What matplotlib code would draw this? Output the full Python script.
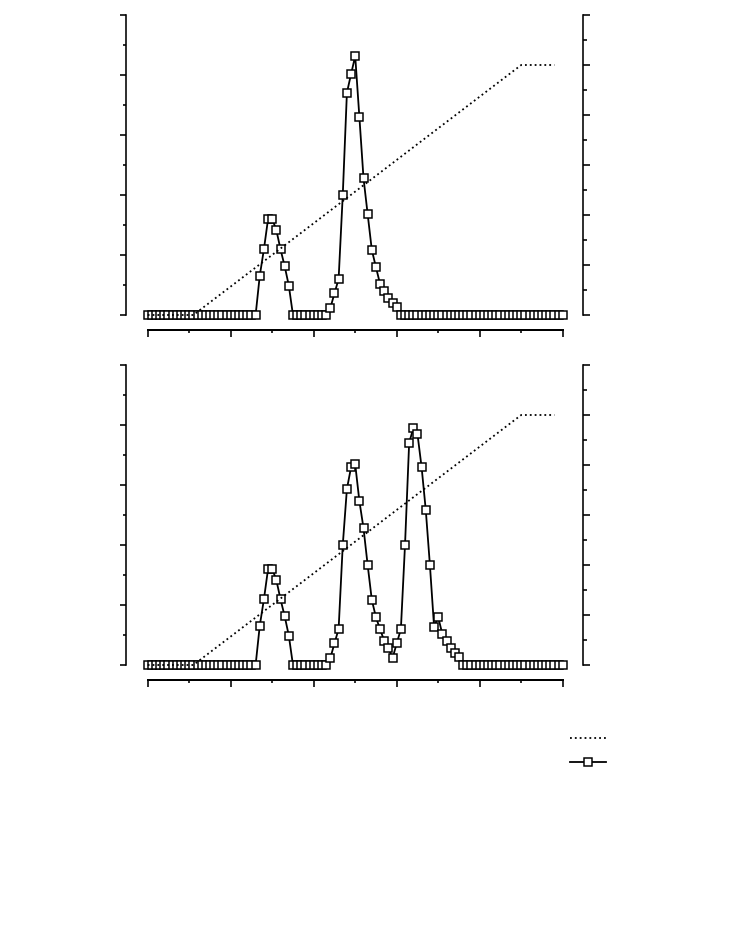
import numpy as np
import matplotlib
matplotlib.use("Agg")
import matplotlib.pyplot as plt
from matplotlib.ticker import MultipleLocator, NullFormatter

# 数据 (从图上读取, 左轴 0~100, 右轴 0~60, x 为采样序号 0~100)
x = np.arange(101)

top_vals = [0] * 27 + [
    13.1, 21.9, 32, 32, 28.3, 21.9, 16.3, 9.8,
] + [0] * 9 + [
    2.3, 7.2, 12, 40, 74.1, 80.3, 86.3, 66.1, 45.6, 33.6, 21.7, 15.9,
    10.3, 8, 5.6, 3.9, 2.8,
] + [0] * 40

bot_vals = [0] * 27 + [
    13.1, 21.9, 32, 32, 28.3, 21.9, 16.3, 9.8,
] + [0] * 9 + [
    2.3, 7.2, 12, 40, 58.7, 65.9, 66.9, 54.7, 45.6, 33.3, 21.7, 15.9,
    11.9, 8, 5.6, 2.3, 7.2, 11.9, 40, 74.1, 78.9, 77, 65.9, 51.7, 33.3,
    12.8, 15.9, 10.3, 8, 5.6, 3.9, 2.8,
] + [0] * 25

# 虚线 (右轴) 的折点
ramp_x = [0, 11, 90, 98]
ramp_y = [0, 0, 50, 50]

W, H = 737, 942
fig = plt.figure(figsize=(W / 100, H / 100), dpi=100)

px = 72 / 100  # 1 像素 = 0.72 pt
LW = 1.6 * px
DATA_KW = dict(color="black", lw=1.8 * px, marker="s", ms=7.3 * px,
               mfc="white", mec="black", mew=1.5 * px)
RAMP_KW = dict(color="black", lw=1.8 * px, linestyle=(0, (1, 1.7)))


def panel(top_px, vals):
    ax = fig.add_axes([126 / W, 1 - (top_px + 300) / H, 457.3 / W, 300 / H])
    ax.set_xlim(-5.23, 104.96)
    ax.set_ylim(0, 100)
    ax.plot(x, vals, "-", clip_on=False, zorder=3, **DATA_KW)
    for s in ("top", "right"):
        ax.spines[s].set_visible(False)
    ax.spines["left"].set_linewidth(LW)
    ax.spines["bottom"].set_linewidth(2 * px)
    ax.spines["bottom"].set_position(("outward", 15 * px))
    ax.spines["bottom"].set_bounds(0, 100)
    ax.xaxis.set_major_locator(MultipleLocator(20))
    ax.xaxis.set_minor_locator(MultipleLocator(10))
    ax.yaxis.set_major_locator(MultipleLocator(20))
    ax.yaxis.set_minor_locator(MultipleLocator(10))
    ax.tick_params(which="both", direction="out", labelleft=False,
                   labelbottom=False, width=LW)
    ax.tick_params(axis="x", which="major", length=7 * px)
    ax.tick_params(axis="x", which="minor", length=3 * px)
    ax.tick_params(axis="y", which="major", length=6 * px)
    ax.tick_params(axis="y", which="minor", length=3 * px)

    ax2 = ax.twinx()
    ax2.set_ylim(0, 60)
    ax2.plot(ramp_x, ramp_y, clip_on=False, **RAMP_KW)
    for s in ("top", "left", "bottom"):
        ax2.spines[s].set_visible(False)
    ax2.spines["right"].set_linewidth(LW)
    ax2.yaxis.set_major_locator(MultipleLocator(10))
    ax2.yaxis.set_minor_locator(MultipleLocator(5))
    ax2.yaxis.set_minor_formatter(NullFormatter())
    ax2.tick_params(which="both", direction="out", labelright=False, width=LW)
    ax2.tick_params(which="major", length=7 * px)
    ax2.tick_params(which="minor", length=4 * px)


panel(15, top_vals)
panel(365, bot_vals)

h_ramp = plt.Line2D([], [], **RAMP_KW)
h_data = plt.Line2D([], [], **DATA_KW)
fig.legend([h_ramp, h_data], [" ", " "], loc="upper left",
           bbox_to_anchor=(570 / W, 1 - 732 / H), frameon=False,
           borderpad=0, borderaxespad=0, handlelength=2.6, handletextpad=0,
           labelspacing=0.7, fontsize=10)

fig.savefig("out.png", dpi=100)
